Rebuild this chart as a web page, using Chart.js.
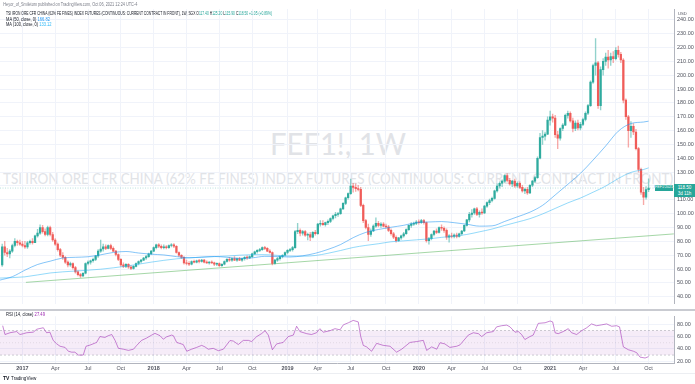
<!DOCTYPE html>
<html><head><meta charset="utf-8">
<script src="https://cdn.jsdelivr.net/npm/chart.js@4.4.1/dist/chart.umd.min.js"></script>
<style>
html,body{margin:0;padding:0;background:#fff;width:695px;height:384px;overflow:hidden;}
#wrap{position:relative;width:695px;height:384px;font-family:"Liberation Sans",Arial,sans-serif;}
svg{position:absolute;left:0;top:0;}
#c1{position:absolute;left:0;top:0;}
#c2{position:absolute;left:0;top:310px;}
#sep{position:absolute;left:0;top:309px;width:695px;height:1.5px;background:#c9cbd1;}
#bot{position:absolute;left:0;top:373px;width:695px;height:1px;background:#eceef2;}
#plabel{position:absolute;left:674px;width:21px;height:13px;background:#26a69a;color:#fff;font-size:4.6px;line-height:5.5px;text-align:center;padding-top:1px;box-sizing:border-box;}
#sym{position:absolute;left:655px;width:18px;height:5.5px;background:#26a69a;color:#fff;font-size:3.6px;line-height:5.5px;text-align:center;}
</style></head><body>
<div id="wrap">
<svg width="695" height="310">
  <text x="338" y="155" font-family="Lato, 'Liberation Sans', sans-serif" font-size="30" fill="#e1e3e7" text-anchor="middle" textLength="136" lengthAdjust="spacingAndGlyphs">FEF1!, 1W</text>
  <text x="3" y="183.5" font-family="Lato, 'Liberation Sans', sans-serif" font-size="15" fill="#e1e3e7" textLength="670" lengthAdjust="spacingAndGlyphs">TSI IRON ORE CFR CHINA (62% FE FINES) INDEX FUTURES (CONTINUOUS: CURRENT CONTRACT IN FRONT)</text>
</svg>
<canvas id="c1" width="695" height="310"></canvas>
<div id="sep"></div>
<canvas id="c2" width="695" height="64"></canvas>
<div id="bot"></div>
<div id="sym">FEF1!2021</div>
<div id="plabel">118.50<br>3d 11h</div>
<svg width="695" height="384" style="pointer-events:none">
  <g font-family="'Liberation Sans', Arial, sans-serif">
  <text x="3.3" y="5.9" font-size="4.6" fill="#787b86" textLength="134" lengthAdjust="spacingAndGlyphs">Heyor_of_Smiletom published on TradingView.com, Oct 06, 2021 12:24 UTC-4</text>
  <text x="6" y="15" font-size="4.6" fill="#131722" textLength="266" lengthAdjust="spacingAndGlyphs">TSI IRON ORE CFR CHINA (62% FE FINES) INDEX FUTURES (CONTINUOUS: CURRENT CONTRACT IN FRONT), 1W, SGX  O<tspan fill="#26a69a">117.40</tspan> H<tspan fill="#26a69a">125.20</tspan> L<tspan fill="#26a69a">115.90</tspan> C<tspan fill="#26a69a">118.50 +1.05 (+0.89%)</tspan></text>
  <text x="6" y="20.6" font-size="4.6" fill="#131722" textLength="44" lengthAdjust="spacingAndGlyphs">MA (50, close, 0) <tspan fill="#2196f3">166.82</tspan></text>
  <text x="6" y="26" font-size="4.6" fill="#131722" textLength="45.5" lengthAdjust="spacingAndGlyphs">MA (100, close, 0) <tspan fill="#29b6f6">133.12</tspan></text>
  <text x="6" y="315.8" font-size="4.6" fill="#131722" textLength="39" lengthAdjust="spacingAndGlyphs">RSI (14, close) <tspan fill="#9c27b0">27.49</tspan></text>
  <text x="678" y="15" font-size="4.2" fill="#50535e">USD</text>
  <text x="3" y="380" font-size="5" font-weight="bold" fill="#131722">TV</text>
  <text x="11" y="380" font-size="4.6" fill="#131722">TradingView</text>
  </g>
</svg>
</div>
<script>
// ---------- DATA ----------
const firstWeek = '2016-11-07';           // week index 0 (weekly bars)
const opens = [
63,76,72,71,73,77,80,79,78,77,
76,79,80,79,84,86,90,87,85,90,
85,81,78,74,70,68.5,65,63,64,61,
58,56,55,57,64,65,66,67,69.5,73,
74.5,76,75,77,75,73,70.5,67,63,62,
63.5,61.5,60.5,62,64,65.5,66.5,68,69,71,
73,75.5,77.5,76.5,75.5,76,75.5,77,77.5,76.5,
72,70,68.5,64.5,64,63.5,65.5,65,66,65.5,
66.5,65,64.5,65,64.5,63.5,64,62.5,63.5,65.5,
67,66.5,67.5,66.5,67.5,66.5,67.5,68.5,68,69,
71,72.5,73.5,74,75.5,75,73,72,64,66.5,
67.5,69,70,72,73.5,74,75.5,87,88,86,
87,84.5,85,83,86.5,85.5,92.5,93,92,93.5,
94.5,96.5,98.5,99.5,100,103.5,107.5,111.5,114.5,120,
119,118,117.5,106,95,90,85,87.5,91,93,
91.5,92.5,91,90.5,88,85.5,83,80.5,82.5,84,
85.5,88.5,91.5,92.5,93,94,93.5,95,93.5,80.5,
82,85,87.5,86.5,90,89.5,88,83,84,83.5,
84.5,83.5,85.5,87.5,91.5,95.5,99.5,100.5,103.5,99.5,
101,100.5,105.5,108,109.5,111,116.5,120,122,123.5,
127.5,124,121.5,123.5,120,122,119,116.5,117.5,115,
120.5,123.5,126,140,155,156,157.5,167.5,170,169,
157,154.5,161.5,164,171,172.5,167,161.5,165.5,162,
164.5,168,172.5,178,195,207,209,178,204,210,
213,211,213.5,212,218,215,211,182,170,160,
163,159,147,132,115.5,112,117.4];
const highs = [
78,80,75,74,78,82,81,81,80,80,
80,81,82,84.5,88.7,92,91.5,89,91,91,
86.5,82,79,75,72,69,66,65,64.5,62,
59,57,57.5,64.5,66,66.5,68,70,74,81,
78,77.5,77.5,78,76,73.5,71,67.5,64.5,64,
64,62.5,62.5,64.5,66,67,68.5,70,71.5,73.5,
76,78,78.5,77.5,77.5,77,77.5,78.5,78.5,77,
72.5,70.5,69,66.5,65.5,66,66.5,66.5,67,67,
67,66,65.5,66,65,64.5,64.5,64,66,67.5,
68.5,68,69,68,68.5,68,69,69.5,69.5,71.5,
73,74,75,76,76.5,75.5,74,72.5,67,68.5,
69.5,70.5,72.5,74,75,76.5,88,93,89,88,
88,86,86.5,87,88,93,95,95,94,95.5,
97,99,101,101,104,108,112,115,125,122,
121.5,120.5,119,107,96,92.5,89,92,97,94.5,
93.5,93.5,92.5,91.5,89,86.5,84,83,84.5,86.5,
89,92,93.5,94,95,95.5,96,96,94,83,
85.5,88,89,90.5,92,90.5,89,85,86,85.5,
86,86,88,92,96,101,103,104,104.5,102,
103.5,106,108.5,110.5,112,117,121.5,123,124.5,128,
129,125.5,124,125,123,123,120.5,118.5,119,121,
124,127,141,158,160,159,170,174,172,171,
159.5,162,165,172,174,173.5,169,167,167.5,166,
169,173.5,179,196,208,226.5,210,206,212,216,
218,216,217,220,221,216.5,212,183,171,166.5,
165,161,148,133,119,119.5,125.2];
const lows = [
62,70,69,68,72,76,77,77,76,75,
75,78,78,79,83,85,86,84,84,84,
80,77,73,69,67,64,61.5,62,60,57,
55,54,54.5,56.5,63,63.5,65,66,68.5,72,
73,74,74.5,74,72.5,69.5,66,62,61,61,
60.5,59.5,60,61.5,63,64.5,66,67,68.5,70.5,
72.5,74.5,75.5,74.5,74.5,74.5,75,76,75.5,71.5,
69,67.5,63.5,63,62.5,63,64.5,64.5,64.5,65,
64.5,64,63.5,64,62.5,62.5,62,62,63,65,
65.5,65.5,66,65.5,66,65.5,66.5,67,67.5,68.5,
70.5,71.5,72.5,73.5,74,72.5,71.5,63,63.5,65.5,
66.5,68,69.5,71,72.5,73,75,85.5,84,84.5,
83.5,81,80.5,82.5,84.5,85,91,91.5,91,92,
93.5,95.5,97,98,99.5,103,106.5,110.5,114,115.5,
116,116.5,105,93.5,89,80.5,83.5,87,90,90.5,
90,90.5,89.5,87,84.5,82,79.5,80,81.5,83,
85,88,90,91.5,92,92.5,93,92.5,79.5,78,
81,84,85.5,86,88,86.5,81.5,79.5,82.5,82.5,
82.5,83,84.5,87,91,94,97.5,99.5,98.5,97.5,
99.5,100,104.5,106.5,108.5,110.5,115.5,118.5,119.5,122.5,
123,120.5,119.5,119,119,118,115.5,114.5,114,114.5,
119.5,122.5,125.5,139.5,150,153,157,164,166,155,
147,153,160,163.5,169,166,159,160,160.5,160.5,
163.5,167,171.5,177.5,194,200,176,175,200,207,
205,207,209,211,213,209,180,168,148,155,
157,146,130,114,106.5,110.5,115.9];
const closes = [
76,72,71,73,77,80,79,78,77,76,
79,80,79,84,86,90,87,85,90,85,
81,78,74,70,68.5,65,63,64,61,58,
56,55,57,64,65,66,67,69.5,73,74.5,
76,75,77,75,73,70.5,67,63,62,63.5,
61.5,60.5,62,64,65.5,66.5,68,69,71,73,
75.5,77.5,76.5,75.5,76,75.5,77,77.5,76.5,72,
70,68.5,64.5,64,63.5,65.5,65,66,65.5,66.5,
65,64.5,65,64.5,63.5,64,62.5,63.5,65.5,67,
66.5,67.5,66.5,67.5,66.5,67.5,68.5,68,69,71,
72.5,73.5,74,75.5,75,73,72,64,66.5,67.5,
69,70,72,73.5,74,75.5,87,88,86,87,
84.5,85,83,86.5,85.5,92.5,93,92,93.5,94.5,
96.5,98.5,99.5,100,103.5,107.5,111.5,114.5,120,119,
118,117.5,106,95,90,85,87.5,91,93,91.5,
92.5,91,90.5,88,85.5,83,80.5,82.5,84,85.5,
88.5,91.5,92.5,93,94,93.5,95,93.5,80.5,82,
85,87.5,86.5,90,89.5,88,83,84,83.5,84.5,
83.5,85.5,87.5,91.5,95.5,99.5,100.5,103.5,99.5,101,
100.5,105.5,108,109.5,111,116.5,120,122,123.5,127.5,
124,121.5,123.5,120,122,119,116.5,117.5,115,120.5,
123.5,126,140,155,156,157.5,167.5,170,169,157,
154.5,161.5,164,171,172.5,167,161.5,165.5,162,164.5,
168,172.5,178,195,207,209,178,204,210,213,
211,213.5,212,218,215,211,182,170,160,163,
159,147,132,115.5,112,117.45,118.5];

// moving averages (week index, value)
const ma50Weeks  = [-1,4,9,14,19,24,29,34,39,44,49,54,59,64,69,74,79,84,89,94,99,104,109,114,119,124,129,134,139,144,149,154,159,164,169,174,179,184,189,194,199,204,209,214,219,224,229,234,239,244,249,254,256];
const ma50Values = [52,54.5,59.2,63.3,65.7,68,68.5,68.9,70.3,72,72.7,71.6,70.75,70.2,69,68.2,68.6,69.1,68.5,67.7,68.1,69.2,69.1,68.7,69.6,71.4,74.2,77.7,82.7,86.5,88.6,90.2,91.6,93.6,94,94.3,93.5,92.4,91,91.2,94.4,97.7,101.1,106,113.5,121.2,129.1,138.7,148.9,159.6,165.1,166.2,166.8];
const ma100Weeks  = [-1,9,19,29,39,49,59,69,79,89,99,104,109,114,119,124,129,134,139,144,149,154,159,164,169,174,179,184,189,194,199,204,209,214,219,224,229,234,239,244,249,254,256];
const ma100Values = [53.5,54.4,57.2,58.6,59.9,62.1,65,67.4,68.6,69.4,70.4,70.4,69.9,69.4,69.3,69.8,71.4,73.4,75.6,77.1,78.3,79.7,80.4,81.1,81.8,82.9,83.8,85,86.9,88.9,91.5,93.9,96.4,99.8,103.8,107.8,111.3,115.5,119.9,125.4,129.8,131.9,133.1];

// trend line (week index, price)
const trendWeeks = [9.4, 266];
const trendValues = [50.4, 85.4];

// RSI (14)
const rsiWeeks = [0.2,1.1,3.1,5.7,7.05,8.4,9.7,12.3,13.7,16.3,17,17.6,18.9,20.2,21.6,22.9,24.9,26.2,27.5,28.8,30.2,32.1,33.2,34.8,37.4,38.7,40.7,42,43.4,44.7,46,48,50,52,53.3,55.2,57.2,59.2,60.5,62.5,63.8,65.1,67.1,67.8,69.1,71.7,73.1,75,77,79,80.3,81.6,83.6,85.6,87.6,90.2,
91.5,93.5,95.5,97.5,98.8,100.8,102.7,104.1,105.4,107,108.7,111.3,113.3,115.3,116.6,117.9,120.6,122.5,124.5,125.8,127.2,129.8,131.8,133.8,135.1,137.1,139,141,142,143,144.3,146.3,148.3,150.9,153.6,156.2,158.2,161.5,164.1,166.8,168.1,170.1,172.1,173.4,175.3,177.3,180,181.3,
182.6,184.6,186.6,188.6,189.9,191.9,194.5,195.8,197.8,199.8,201.1,203.1,204.4,205.7,207,209,210.3,212.3,215,217,218,219,220.2,222.2,224.2,225.5,227.5,229.5,231.5,233.4,235.4,237.4,239.4,241.4,243.3,244.5,246,248,250,251.3,252.6,254.6,256];
const rsiValues = [77.6,63.3,66.2,68.1,63.3,64.7,66.2,67.1,71.9,74.3,69.5,66.2,67.1,53.8,48.1,44.3,42.4,36.2,34.7,34.7,30,30,44.3,46.2,50.5,60,58.6,61.4,63.3,53.8,41,39.5,37.6,39.5,45.7,53.8,57.6,62.4,65.2,61.4,55.7,59.5,62.4,61.4,50.5,47.1,36.2,39.5,42.4,45.7,43.3,39.5,40.9,37.1,39.5,53.5,
52.8,47.1,53.8,53.8,51.9,60,64.7,69.5,62.4,38.6,48.1,50.5,60,62.4,76.7,68.1,64.7,63.3,66.2,72.8,67.1,69.5,72.8,70.9,79,82.4,86.2,83.8,60,45.7,43.3,36.2,49,45.7,44.3,34.7,39.5,50.5,51.9,53.8,37.6,43.3,39.5,50,48.1,42.4,44.3,46.5,
52.8,62.4,66.2,64.7,60,66.2,68.1,75.7,77.6,78.6,75.7,67.1,68.1,63.3,55.2,60,62.4,81.4,82.4,85.2,83.8,66,64.7,68.1,72.8,66.2,63.3,69.5,74.3,80.5,77.6,79,80.5,76.7,77.6,75.7,43.3,38.6,36.2,33.8,26.7,25.2,27.49];
const rsiBands = [70, 50, 30];

// axes
const priceTicks = [40,50,60,70,80,90,100,110,120,130,140,150,160,170,180,190,200,210,220,230,240];
const rsiTicks = [20,40,60,80];
const timeTickDates = ['2017-01-01','2017-04-01','2017-07-01','2017-10-01','2018-01-01','2018-04-01','2018-07-01','2018-10-01','2019-01-01','2019-04-01','2019-07-01','2019-10-01','2020-01-01','2020-04-01','2020-07-01','2020-10-01','2021-01-01','2021-04-01','2021-07-01','2021-10-01'];
const timeTickLabels = ['2017','Apr','Jul','Oct','2018','Apr','Jul','Oct','2019','Apr','Jul','Oct','2020','Apr','Jul','Oct','2021','Apr','Jul','Oct'];
const lastPrice = 118.5;

// ---------- CHART ----------
const DAY = 86400000;
const weekOf = s => Math.ceil((Date.parse(s) - Date.parse(firstWeek)) / (7 * DAY) - 1e-9);
const timeTickWeeks = timeTickDates.map(weekOf);
const X_MIN = -0.87, X_MAX = 266.06;
const FONT = "'Liberation Sans', Arial, sans-serif";
const GRID = '#f0f3fa';
const UP = '#2fab9f', DOWN = '#f05c59';
const isUp = i => closes[i] >= opens[i];
const pts = (xs, ys) => xs.map((x, k) => ({x, y: ys[k]}));

function xAxis(showLabels) {
  return {
    type: 'linear', min: X_MIN, max: X_MAX, offset: false,
    afterBuildTicks: s => { s.ticks = timeTickWeeks.map(v => ({value: v})); },
    afterFit: s => { s.height = showLabels ? 11 : 0; },
    ticks: {
      display: showLabels, autoSkip: false, maxRotation: 0, padding: 2.5,
      color: '#50535e',
      font: ctx => ({family: FONT, size: 5.5, weight: /^\d{4}$/.test(timeTickLabels[ctx.index]) ? 'bold' : 'normal'}),
      callback: (v, i) => timeTickLabels[i]
    },
    grid: {color: GRID, drawTicks: false, offset: false},
    border: {display: showLabels, color: '#b2b5be'}
  };
}
function yAxis(min, max, ticks) {
  return {
    type: 'linear', position: 'right', min, max,
    afterBuildTicks: s => { s.ticks = ticks.map(v => ({value: v})); },
    afterFit: s => { s.width = 21; },
    ticks: {color: '#50535e', font: {family: FONT, size: 5.5}, padding: 3, callback: v => Number(v).toFixed(2)},
    grid: {color: GRID, drawTicks: false},
    border: {display: true, color: '#b2b5be'}
  };
}
const common = {
  responsive: false, animation: false, devicePixelRatio: 1,
  plugins: {legend: {display: false}, tooltip: {enabled: false}},
  elements: {point: {radius: 0}}
};

const chart1 = new Chart(document.getElementById('c1'), {
  type: 'line',
  data: {datasets: [
    {type: 'line', data: pts(ma50Weeks, ma50Values), borderColor: 'rgba(33,150,243,0.55)', borderWidth: 1, cubicInterpolationMode: 'monotone', order: 0},
    {type: 'line', data: pts(ma100Weeks, ma100Values), borderColor: 'rgba(41,182,246,0.5)', borderWidth: 1, cubicInterpolationMode: 'monotone', order: 1},
    {type: 'bar', data: opens.map((o, i) => ({x: i, y: [o, closes[i]]})), barThickness: 1.6, minBarLength: 0.8, borderWidth: 0, grouped: false,
      backgroundColor: ctx => isUp(ctx.dataIndex) ? UP : DOWN, order: 2},
    {type: 'bar', data: highs.map((h, i) => ({x: i, y: [lows[i], h]})), barThickness: 0.7, borderWidth: 0, grouped: false,
      backgroundColor: ctx => isUp(ctx.dataIndex) ? 'rgba(38,166,154,0.5)' : 'rgba(239,83,80,0.5)', order: 3},
    {type: 'line', data: pts(trendWeeks, trendValues), borderColor: 'rgba(76,175,80,0.5)', borderWidth: 1, order: 4},
    {type: 'line', data: [{x: X_MIN, y: lastPrice}, {x: X_MAX, y: lastPrice}], borderColor: 'rgba(38,166,154,0.45)', borderWidth: 0.7, borderDash: [1, 1.5], order: 5}
  ]},
  options: Object.assign({}, common, {
    layout: {padding: {top: 9, bottom: 1, left: 0, right: 0}},
    scales: {x: xAxis(false), y: yAxis(35, 247.8, priceTicks)}
  })
});

const bandLine = v => [{x: X_MIN, y: v}, {x: X_MAX, y: v}];
const chart2 = new Chart(document.getElementById('c2'), {
  type: 'line',
  data: {datasets: [
    {data: pts(rsiWeeks, rsiValues), borderColor: 'rgba(156,39,176,0.55)', borderWidth: 1, order: 0},
    {data: bandLine(rsiBands[0]), borderColor: 'rgba(120,123,134,0.45)', borderWidth: 0.8, borderDash: [2, 2],
      fill: {value: rsiBands[2]}, backgroundColor: 'rgba(156,39,176,0.09)', order: 3},
    {data: bandLine(rsiBands[1]), borderColor: 'rgba(120,123,134,0.22)', borderWidth: 0.8, borderDash: [1, 2], order: 2},
    {data: bandLine(rsiBands[2]), borderColor: 'rgba(120,123,134,0.45)', borderWidth: 0.8, borderDash: [2, 2], order: 1}
  ]},
  options: Object.assign({}, common, {
    layout: {padding: {top: 0, bottom: 0, left: 0, right: 0}},
    scales: {x: xAxis(true), y: yAxis(17.14, 92.86, rsiTicks)}
  })
});

// last price labels positioned through the price scale
const py = chart1.scales.y.getPixelForValue(lastPrice);
const pl = document.getElementById('plabel');
pl.style.top = (py - 4) + 'px';
const sy = document.getElementById('sym');
sy.style.top = (py - 3) + 'px';
</script>
</body></html>
